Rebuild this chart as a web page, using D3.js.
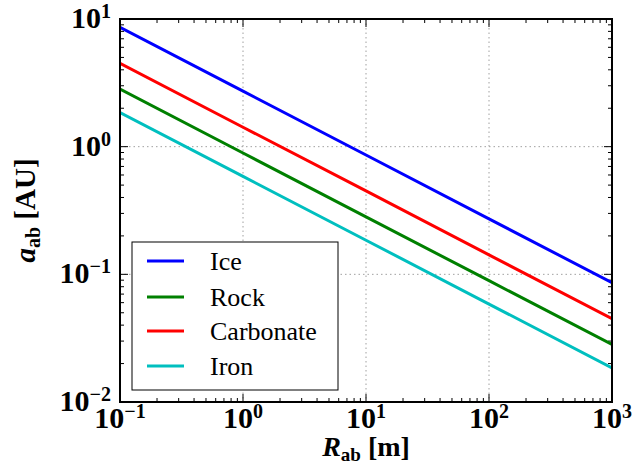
<!DOCTYPE html>
<html><head><meta charset="utf-8">
<script src="https://cdn.jsdelivr.net/npm/d3@7"></script>
<style>body{margin:0;background:#fff}svg{display:block}</style>
</head><body>
<svg id="c" width="635" height="473"></svg>
<script>
const seriesNames = ["Ice","Rock","Carbonate","Iron"];
const seriesColors = ["#0000ff","#008000","#ff0000","#00bfbf"];
const radii = [0.1, 1, 10, 100, 1000];
const iceA = [8.6, 2.72, 0.86, 0.272, 0.086];
const rockA = [2.82, 0.892, 0.282, 0.0892, 0.0282];
const carbonateA = [4.5, 1.42, 0.45, 0.142, 0.045];
const ironA = [1.85, 0.585, 0.185, 0.0585, 0.0185];
const xTicks = [0.1, 1, 10, 100, 1000];
const xTickExp = ["−1","0","1","2","3"];
const yTicks = [0.01, 0.1, 1, 10];
const yTickExp = ["−2","−1","0","1"];

const allA = [iceA, rockA, carbonateA, ironA];
const svg = d3.select("#c");
const L=120, R=612, T=19, B=402;
const x = d3.scaleLog().domain([0.1,1000]).range([L,R]);
const y = d3.scaleLog().domain([0.01,10]).range([B,T]);
const serif = '"Liberation Serif", "Tinos", serif';

// grid
const g = svg.append("g");
xTicks.forEach(v=>g.append("line").attr("x1",x(v)).attr("x2",x(v)).attr("y1",T).attr("y2",B)
  .attr("stroke","#a0a0a0").attr("stroke-dasharray","1.5,3").attr("stroke-width",1));
yTicks.forEach(v=>g.append("line").attr("y1",y(v)).attr("y2",y(v)).attr("x1",L).attr("x2",R)
  .attr("stroke","#a0a0a0").attr("stroke-dasharray","1.5,3").attr("stroke-width",1));

// minor ticks
const minorX=[], minorY=[];
for(let e=-1;e<3;e++) for(let m=2;m<10;m++) minorX.push(m*Math.pow(10,e));
for(let e=-2;e<1;e++) for(let m=2;m<10;m++) minorY.push(m*Math.pow(10,e));
const tk = svg.append("g").attr("stroke","#000").attr("stroke-width",1);
minorX.forEach(v=>{const px=x(v);
  tk.append("line").attr("x1",px).attr("x2",px).attr("y1",B).attr("y2",B-4);
  tk.append("line").attr("x1",px).attr("x2",px).attr("y1",T).attr("y2",T+4);});
minorY.forEach(v=>{const py=y(v);
  tk.append("line").attr("y1",py).attr("y2",py).attr("x1",L).attr("x2",L+4);
  tk.append("line").attr("y1",py).attr("y2",py).attr("x1",R).attr("x2",R-4);});
xTicks.forEach(v=>{const px=x(v);
  tk.append("line").attr("x1",px).attr("x2",px).attr("y1",B).attr("y2",B-8);
  tk.append("line").attr("x1",px).attr("x2",px).attr("y1",T).attr("y2",T+8);});
yTicks.forEach(v=>{const py=y(v);
  tk.append("line").attr("y1",py).attr("y2",py).attr("x1",L).attr("x2",L+8);
  tk.append("line").attr("y1",py).attr("y2",py).attr("x1",R).attr("x2",R-8);});

// lines
const line = d3.line().x((d,i)=>x(radii[i])).y(d=>y(d));
svg.append("clipPath").attr("id","cp").append("rect").attr("x",L).attr("y",T).attr("width",R-L).attr("height",B-T);
allA.forEach((arr,i)=>svg.append("path").datum(arr).attr("d",line).attr("fill","none")
  .attr("stroke",seriesColors[i]).attr("stroke-width",3).attr("clip-path","url(#cp)"));

// frame
svg.append("rect").attr("x",L).attr("y",T).attr("width",R-L).attr("height",B-T)
  .attr("fill","none").attr("stroke","#000").attr("stroke-width",2);

// tick labels
xTicks.forEach((v,i)=>{
  const t=svg.append("text").attr("x",x(v)).attr("y",B+26).attr("text-anchor","middle")
    .style("font-family",serif).style("font-weight","bold").style("font-size","30px");
  t.append("tspan").text("10");
  t.append("tspan").attr("dy",-10).style("font-size","20px").text(xTickExp[i]);
});
yTicks.forEach((v,i)=>{
  const t=svg.append("text").attr("x",L-9).attr("y",y(v)+9).attr("text-anchor","end")
    .style("font-family",serif).style("font-weight","bold").style("font-size","30px");
  t.append("tspan").text("10");
  t.append("tspan").attr("dy",-10).style("font-size","20px").text(yTickExp[i]);
});

// axis labels
const xl = svg.append("text").attr("x",(L+R)/2).attr("y",456).attr("text-anchor","middle")
  .style("font-family",serif).style("font-weight","bold").style("font-size","28px");
xl.append("tspan").style("font-style","italic").text("R");
xl.append("tspan").attr("dy",5).style("font-size","19px").text("ab");
xl.append("tspan").attr("dy",-5).text(" [m]");

const yl = svg.append("text").attr("transform",`translate(35,${(T+B)/2}) rotate(-90)`).attr("text-anchor","middle")
  .style("font-family",serif).style("font-weight","bold").style("font-size","29px");
yl.append("tspan").style("font-style","italic").text("a");
yl.append("tspan").attr("dy",5).style("font-size","20px").text("ab");
yl.append("tspan").attr("dy",-5).text(" [AU]");

// legend
svg.append("rect").attr("x",132).attr("y",242).attr("width",206).attr("height",148)
  .attr("fill","#fff").attr("stroke","#000").attr("stroke-width",1);
const rowY=[261,297,331,366];
seriesNames.forEach((n,i)=>{
  svg.append("line").attr("x1",147).attr("x2",184).attr("y1",rowY[i]).attr("y2",rowY[i])
    .attr("stroke",seriesColors[i]).attr("stroke-width",3);
  svg.append("text").attr("x",210).attr("y",rowY[i]+9).style("font-family",serif)
    .style("font-size","26px").text(n);
});
</script>
</body></html>
